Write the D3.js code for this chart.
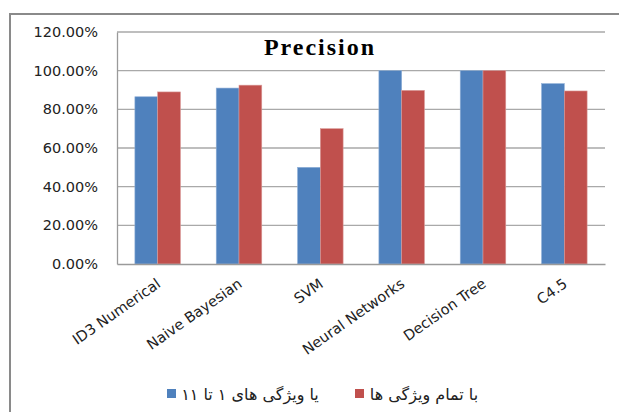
<!DOCTYPE html>
<html>
<head>
<meta charset="utf-8">
<script src="https://cdn.jsdelivr.net/npm/d3@7"></script>
<style>
  html, body { margin: 0; padding: 0; background: #fff; }
  svg { display: block; }
</style>
</head>
<body>
<svg id="chart" width="619" height="412"></svg>
<script>
// Classifier precision, two feature sets
const categories = ["ID3 Numerical", "Naive Bayesian", "SVM", "Neural Networks", "Decision Tree", "C4.5"];
const seriesNames = ["یا ویژگی های ۱ تا ۱۱", "با تمام ویژگی ها"];
const features1to11 = [0.865, 0.91, 0.50, 1.00, 1.00, 0.933];
const allFeatures = [0.89, 0.925, 0.70, 0.898, 1.00, 0.895];
const yTicks = [0, 0.2, 0.4, 0.6, 0.8, 1.0, 1.2];
const colors = ["#4F81BD", "#C0504D"];
const title = "Precision";

const svg = d3.select("#chart");

// outer chart frame (left and top edges visible)
svg.append("path")
  .attr("d", "M10,412 L10,14 L619,14")
  .attr("fill", "none")
  .attr("stroke", "#8a8a8a")
  .attr("stroke-width", 2);

const plot = { left: 117, right: 605, top: 32, bottom: 264 };

const y = d3.scaleLinear().domain([0, 1.2]).range([plot.bottom, plot.top]);
const x0 = d3.scaleBand().domain(categories)
  .range([plot.left, plot.right]).paddingInner(0.44).paddingOuter(0.22);
const x1 = d3.scaleBand().domain([0, 1]).range([0, x0.bandwidth()]);

// horizontal gridlines
svg.append("g").selectAll("line")
  .data(yTicks.filter(d => d > 0))
  .join("line")
  .attr("x1", plot.left).attr("x2", plot.right)
  .attr("y1", d => y(d)).attr("y2", d => y(d))
  .attr("stroke", "#a9a9a9").attr("stroke-width", 1.3);

// y axis
const yAxis = svg.append("g")
  .attr("transform", `translate(${plot.left},0)`)
  .call(d3.axisLeft(y).tickValues(yTicks).tickFormat(d3.format(".2%")).tickSize(0).tickPadding(19));
yAxis.select(".domain").attr("stroke", "#9a9a9a").attr("stroke-width", 1.3);
yAxis.selectAll("text")
  .attr("font-family", "DejaVu Sans, sans-serif")
  .attr("font-size", 14.5)
  .attr("fill", "#222");

// bars
const data = categories.map((c, i) => ({ cat: c, vals: [features1to11[i], allFeatures[i]] }));
const groups = svg.append("g").selectAll("g")
  .data(data).join("g")
  .attr("transform", d => `translate(${x0(d.cat)},0)`);
groups.selectAll("rect")
  .data(d => d.vals.map((v, s) => ({ v, s })))
  .join("rect")
  .attr("x", d => x1(d.s))
  .attr("width", x1.bandwidth())
  .attr("y", d => y(d.v))
  .attr("height", d => y(0) - y(d.v))
  .attr("fill", d => colors[d.s])
  .attr("stroke", d => d.s === 0 ? "#8fb0d8" : "#d99a98")
  .attr("stroke-width", 0.6);

// x axis
const xAxis = svg.append("g")
  .attr("transform", `translate(0,${plot.bottom})`)
  .call(d3.axisBottom(x0).tickSize(0).tickPadding(0));
xAxis.select(".domain").attr("stroke", "#9a9a9a").attr("stroke-width", 1.3);
xAxis.selectAll(".tick text")
  .attr("font-family", "DejaVu Sans, sans-serif")
  .attr("font-size", 14.5)
  .attr("fill", "#222")
  .attr("text-anchor", "end")
  .attr("dy", 0)
  .attr("transform", "translate(4,22) rotate(-35)");

// title
svg.append("text")
  .attr("x", 320).attr("y", 55)
  .attr("text-anchor", "middle")
  .attr("font-family", "Liberation Serif, Times New Roman, serif")
  .attr("font-weight", "bold")
  .attr("font-size", 24)
  .attr("letter-spacing", 2)
  .attr("fill", "#000")
  .text(title);

// legend
const legend = [
  { sx: 167, tx: 250 },
  { sx: 355, tx: 424 }
];
const lg = svg.append("g");
lg.selectAll("rect")
  .data(seriesNames).join("rect")
  .attr("x", (d, i) => legend[i].sx)
  .attr("y", 389)
  .attr("width", 9).attr("height", 9)
  .attr("fill", (d, i) => colors[i]);
lg.selectAll("text")
  .data(seriesNames).join("text")
  .attr("x", (d, i) => legend[i].tx)
  .attr("y", 400)
  .attr("text-anchor", "middle")
  .attr("direction", "rtl")
  .attr("font-family", "DejaVu Sans, sans-serif")
  .attr("font-size", 16)
  .attr("fill", "#222")
  .text(d => d);
</script>
</body>
</html>
